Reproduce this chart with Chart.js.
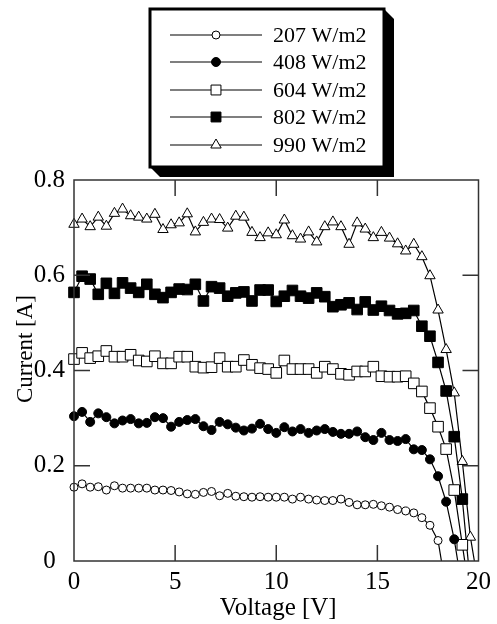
<!DOCTYPE html>
<html><head><meta charset="utf-8">
<script src="https://cdn.jsdelivr.net/npm/chart.js@4.4.0/dist/chart.umd.min.js"></script>
<style>html,body{margin:0;padding:0;background:#fff}#wrap{position:relative;width:497px;height:624px}</style>
</head><body><div id="wrap"><canvas id="c" width="497" height="624"></canvas></div>
<script>
// ---- data ----
const voltage = [0,0.4,0.8,1.2,1.6,2,2.4,2.8,3.2,3.6,4,4.4,4.8,5.2,5.6,6,6.4,6.8,7.2,7.6,8,8.4,8.8,9.2,9.6,10,10.4,10.8,11.2,11.6,12,12.4,12.8,13.2,13.6,14,14.4,14.8,15.2,15.6,16,16.4,16.8,17.2,17.6,18,18.4,18.8,19.2,19.6,20];
const seriesLabels = ['207 W/m2','408 W/m2','604 W/m2','802 W/m2','990 W/m2'];
const current207 = [0.155,0.162,0.155,0.156,0.149,0.158,0.153,0.153,0.153,0.153,0.149,0.149,0.148,0.145,0.141,0.140,0.144,0.146,0.137,0.142,0.136,0.135,0.134,0.135,0.134,0.134,0.134,0.130,0.134,0.130,0.128,0.127,0.127,0.130,0.123,0.118,0.118,0.119,0.116,0.113,0.108,0.105,0.101,0.091,0.075,0.043,-0.06];
const current408 = [0.304,0.313,0.292,0.310,0.302,0.289,0.295,0.298,0.289,0.290,0.302,0.300,0.282,0.292,0.296,0.298,0.283,0.275,0.292,0.287,0.280,0.274,0.278,0.288,0.277,0.269,0.281,0.272,0.277,0.269,0.274,0.277,0.271,0.267,0.267,0.272,0.260,0.254,0.269,0.254,0.252,0.256,0.2345,0.233,0.2135,0.178,0.1245,0.0456,-0.06];
const current604 = [0.424,0.437,0.426,0.430,0.441,0.429,0.429,0.433,0.421,0.419,0.430,0.415,0.415,0.429,0.429,0.408,0.406,0.407,0.426,0.408,0.408,0.422,0.412,0.405,0.403,0.395,0.421,0.403,0.403,0.403,0.395,0.408,0.403,0.393,0.391,0.398,0.398,0.408,0.388,0.387,0.387,0.388,0.373,0.356,0.321,0.282,0.235,0.149,0.034,-0.08];
const current802 = [0.564,0.598,0.592,0.560,0.583,0.562,0.584,0.573,0.564,0.581,0.560,0.553,0.564,0.571,0.570,0.581,0.546,0.576,0.573,0.556,0.563,0.565,0.546,0.569,0.569,0.545,0.556,0.568,0.556,0.552,0.563,0.555,0.534,0.538,0.542,0.528,0.544,0.527,0.535,0.526,0.519,0.520,0.526,0.493,0.472,0.417,0.357,0.261,0.130,-0.05];
const current990 = [0.707,0.718,0.702,0.722,0.703,0.730,0.739,0.725,0.722,0.718,0.728,0.696,0.706,0.710,0.729,0.691,0.711,0.718,0.717,0.699,0.724,0.722,0.690,0.679,0.689,0.685,0.716,0.683,0.676,0.691,0.670,0.702,0.712,0.702,0.665,0.710,0.697,0.679,0.690,0.678,0.666,0.651,0.665,0.639,0.599,0.527,0.444,0.353,0.209,0.050,-0.052];
const xTickValues = [0,5,10,15,20];
const xTickLabels = ['0','5','10','15','20'];
const yTickValues = [0,0.2,0.4,0.6,0.8];
const yTickLabels = ['0','0.2','0.4','0.6','0.8'];
const xTitle = 'Voltage [V]';
const yTitle = 'Current [A]';

// ---- styles ----
const FONT = '"Liberation Serif", "Times New Roman", serif';
const markerStyles = [
  {pointStyle:'circle', radius:4, fill:'#fff'},
  {pointStyle:'circle', radius:4.5, fill:'#000'},
  {pointStyle:'rect', radius:7.5, fill:'#fff'},
  {pointStyle:'rect', radius:7.5, fill:'#000'},
  {pointStyle:'triangle', radius:6, fill:'#fff'}
];
const allCurrents = [current207, current408, current604, current802, current990];

const datasets = allCurrents.map((cur, i) => ({
  label: seriesLabels[i],
  data: cur.map((c, k) => ({x: voltage[k], y: c})),
  borderColor: '#000',
  borderWidth: 1.2,
  pointStyle: markerStyles[i].pointStyle,
  pointRadius: markerStyles[i].radius,
  pointBackgroundColor: markerStyles[i].fill,
  pointBorderColor: '#000',
  pointBorderWidth: 1,
  tension: 0,
  clip: {left: 12, top: 12, right: 0, bottom: 0}
}));

function drawMarker(ctx, style, x, y, r, fill) {
  ctx.save();
  ctx.fillStyle = fill; ctx.strokeStyle = '#000'; ctx.lineWidth = 1;
  ctx.beginPath();
  if (style === 'circle') {
    ctx.arc(x, y, r, 0, Math.PI * 2);
  } else if (style === 'rect') {
    const s = Math.SQRT1_2 * r;
    ctx.rect(x - s, y - s, 2 * s, 2 * s);
  } else if (style === 'triangle') {
    let a = 0;
    ctx.moveTo(x + Math.sin(a) * r, y - Math.cos(a) * r);
    a += 2 * Math.PI / 3;
    ctx.lineTo(x + Math.sin(a) * r, y - Math.cos(a) * r);
    a += 2 * Math.PI / 3;
    ctx.lineTo(x + Math.sin(a) * r, y - Math.cos(a) * r);
    ctx.closePath();
  }
  ctx.fill(); ctx.stroke();
  ctx.restore();
}

const decor = {
  id: 'decor',
  afterDraw(chart) {
    const {ctx, chartArea: a, scales: {x, y}} = chart;
    ctx.save();
    // frame
    ctx.strokeStyle = '#333'; ctx.lineWidth = 1.5;
    ctx.strokeRect(a.left, a.top, a.right - a.left, a.bottom - a.top);
    // inward ticks
    ctx.beginPath();
    xTickValues.slice(1, -1).forEach(v => {
      const px = x.getPixelForValue(v);
      ctx.moveTo(px, a.bottom); ctx.lineTo(px, a.bottom - 16);
      ctx.moveTo(px, a.top); ctx.lineTo(px, a.top + 16);
    });
    yTickValues.slice(1, -1).forEach(v => {
      const py = y.getPixelForValue(v);
      ctx.moveTo(a.left, py); ctx.lineTo(a.left + 16, py);
      ctx.moveTo(a.right, py); ctx.lineTo(a.right - 16, py);
    });
    ctx.stroke();
    // axis titles
    ctx.fillStyle = '#000';
    ctx.textAlign = 'center';
    ctx.textBaseline = 'alphabetic';
    ctx.font = '25px ' + FONT;
    ctx.fillText(xTitle, (a.left + a.right) / 2 + 2, a.bottom + 54);
    ctx.textBaseline = 'middle';
    ctx.font = '23px ' + FONT;
    ctx.save();
    ctx.translate(a.left - 48, a.top + 169);
    ctx.rotate(-Math.PI / 2);
    ctx.fillText(yTitle, 0, 0);
    ctx.restore();
    // legend box
    const L = 150, T = 9, R = 384, B = 167, sh = 10;
    ctx.fillStyle = '#000';
    ctx.beginPath();
    ctx.moveTo(L, B); ctx.lineTo(L + sh, B + sh); ctx.lineTo(R + sh, B + sh);
    ctx.lineTo(R + sh, T + sh); ctx.lineTo(R, T); ctx.closePath(); ctx.fill();
    ctx.fillStyle = '#fff'; ctx.fillRect(L, T, R - L, B - T);
    ctx.strokeStyle = '#000'; ctx.lineWidth = 3;
    ctx.strokeRect(L, T, R - L, B - T);
    const rows = [35, 62, 90, 117, 145];
    ctx.font = '22px ' + FONT;
    ctx.textAlign = 'left'; ctx.textBaseline = 'middle';
    chart.data.datasets.forEach((ds, i) => {
      const yy = rows[i];
      ctx.strokeStyle = '#000'; ctx.lineWidth = 1.2;
      ctx.beginPath(); ctx.moveTo(170, yy); ctx.lineTo(262, yy); ctx.stroke();
      const m = markerStyles[i];
      drawMarker(ctx, m.pointStyle, 216, yy, m.pointStyle === 'rect' ? 7 : m.radius, m.fill);
      ctx.fillStyle = '#000';
      ctx.fillText(ds.label, 273, yy + 1);
    });
    ctx.restore();
  }
};

new Chart(document.getElementById('c').getContext('2d'), {
  type: 'line',
  data: {datasets},
  options: {
    responsive: false,
    animation: false,
    layout: {padding: {left: 0, right: 16, top: 180, bottom: 0}},
    plugins: {legend: {display: false}, tooltip: {enabled: false}},
    scales: {
      x: {
        type: 'linear', min: 0, max: 20,
        afterBuildTicks: s => { s.ticks = xTickValues.map(v => ({value: v})); },
        afterFit: s => { s.height = 63; },
        grid: {display: false, drawTicks: false},
        border: {display: false},
        ticks: {color: '#000', font: {family: FONT, size: 25}, padding: 6, maxRotation: 0,
          callback: (v, i) => xTickLabels[i]}
      },
      y: {
        type: 'linear', min: 0, max: 0.8,
        afterBuildTicks: s => { s.ticks = yTickValues.map(v => ({value: v})); },
        afterFit: s => { s.width = 74; },
        grid: {display: false, drawTicks: false},
        border: {display: false},
        ticks: {color: '#000', font: {family: FONT, size: 25}, padding: 9, crossAlign: 'center',
          callback: (v, i) => yTickLabels[i]}
      }
    }
  },
  plugins: [decor]
});
</script>
</body></html>
